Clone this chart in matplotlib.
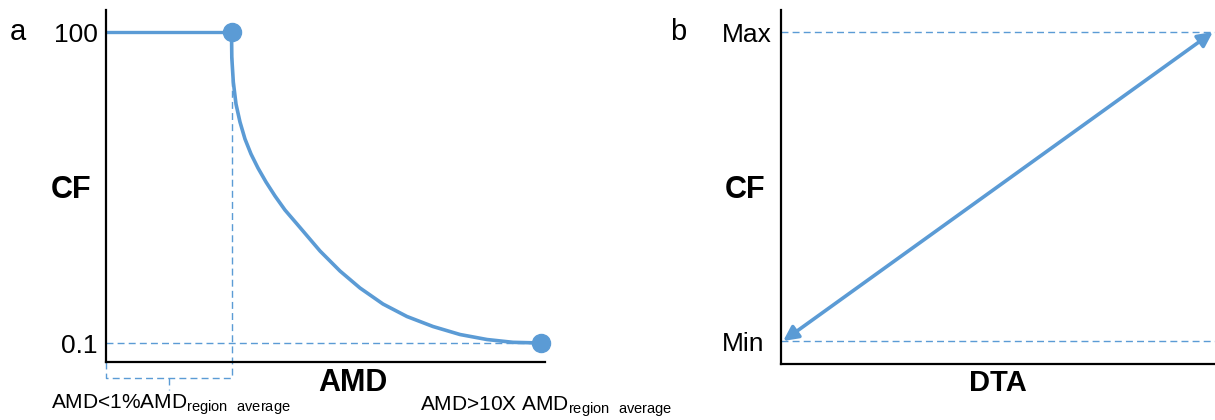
import numpy as np
import matplotlib.pyplot as plt

plt.rcParams['font.family'] = ['Liberation Sans', 'DejaVu Sans']
plt.rcParams['mathtext.fontset'] = 'custom'
plt.rcParams['mathtext.rm'] = 'Liberation Sans'

BLUE = '#5B9BD5'

# panel a: CF against AMD (x in % of axis width)
amd_knee = 28.6
amd_end = 99.1
cf_max = 100
cf_min = 0.1
curve_x = [28.59, 28.66, 29.00, 29.61, 30.52, 31.66, 33.03, 34.62, 36.45,
           38.50, 40.77, 43.51, 48.75, 53.30, 57.86, 63.10, 68.56, 74.49,
           80.64, 86.79, 92.71, 99.09]
curve_y = [100, 91.65, 83.94, 76.87, 71.09, 65.63, 60.81, 56.31, 51.81,
           47.32, 42.82, 38.33, 29.66, 23.23, 17.77, 12.62, 8.61, 5.40,
           2.83, 1.22, 0.32, 0.1]

# panel b: CF against DTA (linear Min -> Max)
dta = [0.005, 0.995]
cf_b = [0.0, 1.0]

fig = plt.figure(figsize=(12.15, 4.2), dpi=100)

ax_a = fig.add_axes([106 / 1215, 1 - 362 / 420, 439 / 1215, 352 / 420])
ax_b = fig.add_axes([781 / 1215, 1 - 364 / 420, 434 / 1215, 354 / 420])

for ax in (ax_a, ax_b):
    for s in ('top', 'right'):
        ax.spines[s].set_visible(False)
    for s in ('left', 'bottom'):
        ax.spines[s].set_linewidth(1.6)
        ax.spines[s].set_color('black')
    ax.tick_params(length=0, labelsize=19)
    ax.set_xticks([])

# ---- panel a ----
ax_a.set_xlim(0, 100)
ax_a.set_ylim(-6.0, 107.07)
ax_a.set_yticks([cf_min, cf_max], ['0.1', '100'])
ax_a.tick_params(axis='y', pad=6)

dash = dict(color=BLUE, lw=1.0, ls=(0, (5, 3)))
ax_a.plot([0, amd_end], [cf_min, cf_min], **dash)
bracket_y = -11.1
ax_a.plot([amd_knee, amd_knee], [cf_max - 8, bracket_y], clip_on=False, **dash)
ax_a.plot([0, 0, amd_knee], [-6.0, bracket_y, bracket_y], clip_on=False, **dash)
mid = amd_knee / 2
ax_a.plot([mid, mid], [bracket_y, -15.0], clip_on=False, **dash)

ax_a.plot([0, amd_knee], [cf_max, cf_max], color=BLUE, lw=2.4, solid_capstyle='butt')
ax_a.plot(curve_x, curve_y, color=BLUE, lw=2.6, solid_capstyle='round',
          solid_joinstyle='round')
ax_a.plot([amd_knee, amd_end], [cf_max, cf_min], 'o', color=BLUE, ms=13, clip_on=False)

# ---- panel b ----
ax_b.set_xlim(0, 1)
ax_b.set_ylim(-0.0744, 1.0712)
ax_b.set_yticks([0, 1], ['Min', 'Max'])
ax_b.tick_params(axis='y', pad=42.5)
for lbl in ax_b.get_yticklabels():
    lbl.set_horizontalalignment('left')
ax_b.plot([0, 1], [0, 0], clip_on=False, **dash)
ax_b.plot([0, 1], [1, 1], clip_on=False, **dash)
ax_b.annotate('', xy=(dta[1], cf_b[1]), xytext=(dta[0], cf_b[0]),
              arrowprops=dict(arrowstyle='<|-|>', color=BLUE, lw=2.6,
                              mutation_scale=22, shrinkA=0, shrinkB=0),
              annotation_clip=False)

# labels
fig.text(18 / 1215, 1 - 32 / 420, 'a', fontsize=21, ha='center', va='center')
fig.text(678 / 1215, 1 - 32 / 420, 'b', fontsize=21, ha='center', va='center')
fig.text(71 / 1215, 1 - 190 / 420, 'CF', fontsize=22, fontweight='bold',
         ha='center', va='center')
fig.text(745 / 1215, 1 - 190 / 420, 'CF', fontsize=22, fontweight='bold',
         ha='center', va='center')
fig.text(353 / 1215, 1 - 383 / 420, 'AMD', fontsize=22, fontweight='bold',
         ha='center', va='center')
fig.text(998 / 1215, 1 - 383 / 420, 'DTA', fontsize=21, fontweight='bold',
         ha='center', va='center')
fig.text(51 / 1215, 1 - 408 / 420, r'AMD<1%AMD$_{\mathrm{region\ \ average}}$',
         fontsize=15, ha='left', va='baseline')
fig.text(420 / 1215, 1 - 410 / 420, r'AMD>10X AMD$_{\mathrm{region\ \ average}}$',
         fontsize=15, ha='left', va='baseline')

fig.savefig('out.png', dpi=100)
